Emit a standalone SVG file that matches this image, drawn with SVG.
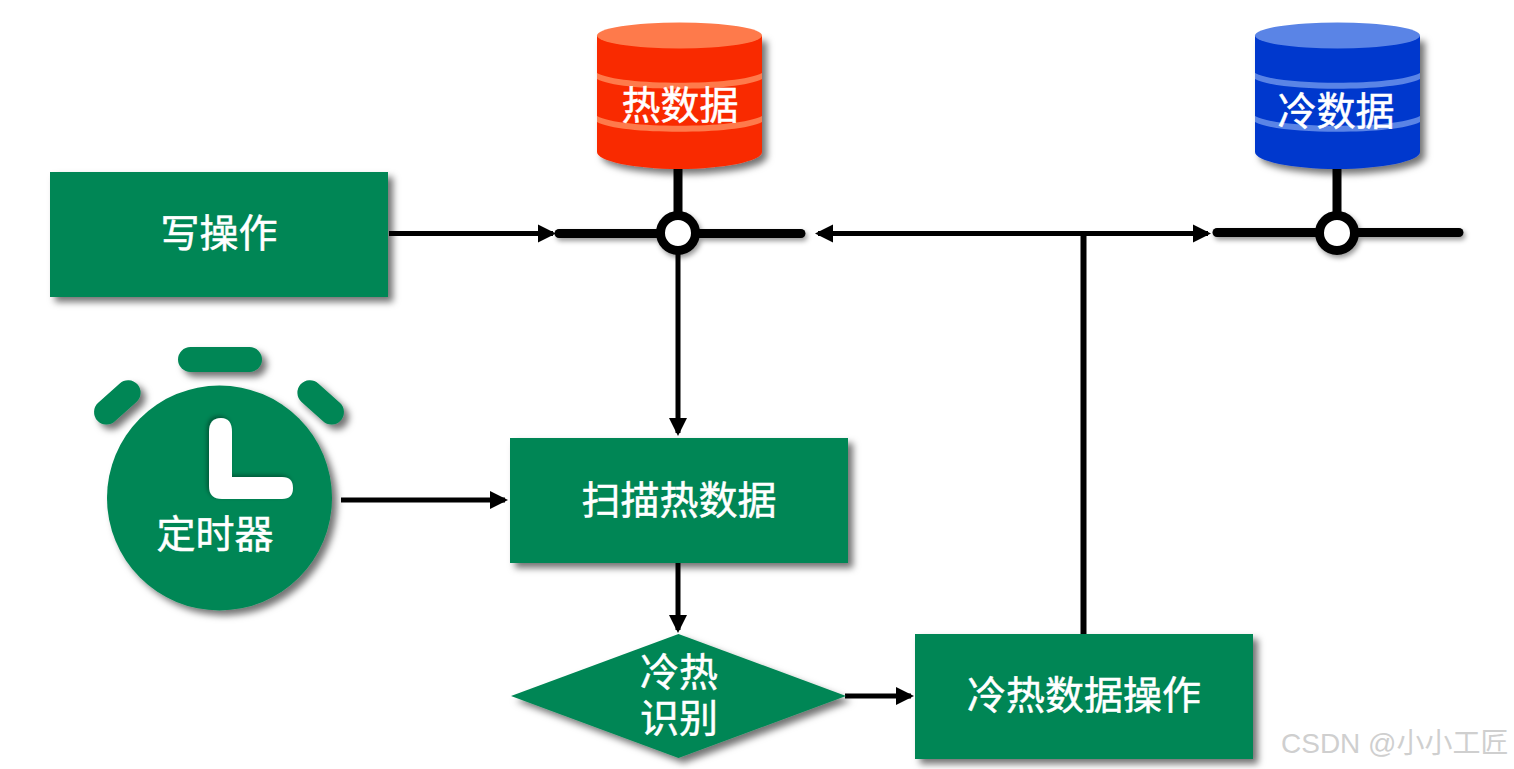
<svg xmlns="http://www.w3.org/2000/svg" width="1514" height="769" viewBox="0 0 1514 769">
<defs>
<filter id="sh" x="-15%" y="-15%" width="130%" height="130%"><feDropShadow dx="5" dy="5" stdDeviation="3.500" flood-color="#000" flood-opacity="0.55"/></filter>
<filter id="shl" filterUnits="userSpaceOnUse" x="0" y="150" width="1514" height="160"><feDropShadow dx="2" dy="3" stdDeviation="2.500" flood-color="#000" flood-opacity="0.4"/></filter>
<filter id="in" x="-20%" y="-20%" width="140%" height="140%"><feDropShadow dx="-2" dy="-2" stdDeviation="2" flood-color="#000" flood-opacity="0.35"/></filter>
<marker id="ah" markerUnits="userSpaceOnUse" markerWidth="20" markerHeight="20" refX="15" refY="10" orient="auto-start-reverse"><path d="M0 1L18 10L0 19Z" fill="#000"/></marker>
</defs>
<style>
.t{font-family:"Noto Sans CJK SC","Noto Sans",sans-serif;font-size:39px;font-weight:400;fill:#fff;stroke:#fff;stroke-width:0.5px;text-anchor:middle}
.g{fill:#028654}
.l{fill:none;stroke:#000;stroke-width:5}
.b{fill:none;stroke:#000;stroke-width:9;stroke-linecap:round}
.s{fill:none;stroke:#000;stroke-width:9}
</style>
<rect width="1514" height="769" fill="#fff"/>
<g id="connectors">
<path class="s" d="M678 168V215"/>
<path class="s" d="M1337 168V215"/>
<g filter="url(#shl)">
<path class="b" d="M559 233.500H801"/>
<circle cx="678" cy="233" r="17.500" fill="#fff" stroke="#000" stroke-width="9"/>
</g>
<g filter="url(#shl)">
<path class="b" d="M1217 232.500H1459"/>
<circle cx="1337" cy="233" r="17.500" fill="#fff" stroke="#000" stroke-width="9"/>
</g>
<path class="l" d="M389 233.500H553" marker-end="url(#ah)"/>
<path class="l" d="M678 252V433" marker-end="url(#ah)"/>
<path class="l" d="M341 500H505" marker-end="url(#ah)"/>
<path class="l" d="M678 561V630" marker-end="url(#ah)"/>
<path class="l" d="M845 696H911" marker-end="url(#ah)"/>
<path class="l" d="M818 233.500H1208" marker-start="url(#ah)" marker-end="url(#ah)"/>
<path class="l" style="stroke-width:6" d="M1083.500 233V634"/>
</g>
<g id="hot-data">
<path d="M597 36V152C597 161 634 169 679 169S762 161 762 152V36Z" fill="#f92b00" filter="url(#sh)"/>
<ellipse cx="679.500" cy="35.500" rx="82.500" ry="13" fill="#fe7a4b"/>
<path d="M597 73C620 86 738 86 762 73V79C738 92 620 92 597 79ZM597 116C620 129 738 129 762 116V122C738 135 620 135 597 122Z" fill="#fe7a4b"/>
<text class="t" x="680" y="119">热数据</text>
</g>
<g id="cold-data">
<path d="M1255 36V152C1255 161 1292 169 1337 169S1420 161 1420 152V36Z" fill="#0039cd" filter="url(#sh)"/>
<ellipse cx="1337.500" cy="35.500" rx="82.500" ry="13" fill="#5a84e6"/>
<path d="M1255 73C1278 86 1396 86 1420 73V79C1396 92 1278 92 1255 79ZM1255 116C1278 129 1396 129 1420 116V122C1396 135 1278 135 1255 122Z" fill="#5a84e6"/>
<text class="t" x="1336" y="125">冷数据</text>
</g>
<g id="write-op">
<rect class="g" x="50" y="172" width="338" height="125" filter="url(#sh)"/>
<text class="t" x="219" y="247">写操作</text>
</g>
<g id="timer">
<g filter="url(#sh)">
<circle class="g" cx="219.500" cy="498" r="112.500"/>
<rect class="g" x="178" y="347" width="84" height="25" rx="12.500"/>
<rect class="g" x="90" y="390" width="54" height="25" rx="12.500" transform="rotate(-42 117 402)"/>
<rect class="g" x="294" y="390" width="54" height="25" rx="12.500" transform="rotate(42 321 402)"/>
</g>
<path d="M209 432Q209 418 221 418Q232 418 232 432V477H282Q293 477 293 488Q293 499 282 499H222Q209 499 209 486Z" fill="#fff" filter="url(#in)"/>
<text class="t" x="215" y="548">定时器</text>
</g>
<g id="scan">
<rect class="g" x="510" y="438" width="338" height="125" filter="url(#sh)"/>
<text class="t" x="679" y="514">扫描热数据</text>
</g>
<g id="identify">
<path class="g" d="M678.500 634L846 696L678.500 758L511 696Z" filter="url(#sh)"/>
<text class="t"><tspan x="679" y="686">冷热</tspan><tspan x="679" y="732">识别</tspan></text>
</g>
<g id="cold-hot-op">
<rect class="g" x="915" y="634" width="338" height="125" filter="url(#sh)"/>
<text class="t" x="1084" y="709">冷热数据操作</text>
</g>
<text id="watermark" x="1281" y="753" style="font-family:'Liberation Sans','Noto Sans CJK SC',sans-serif;font-size:28px;fill:#cfcfcf">CSDN @小小工匠</text>
</svg>
